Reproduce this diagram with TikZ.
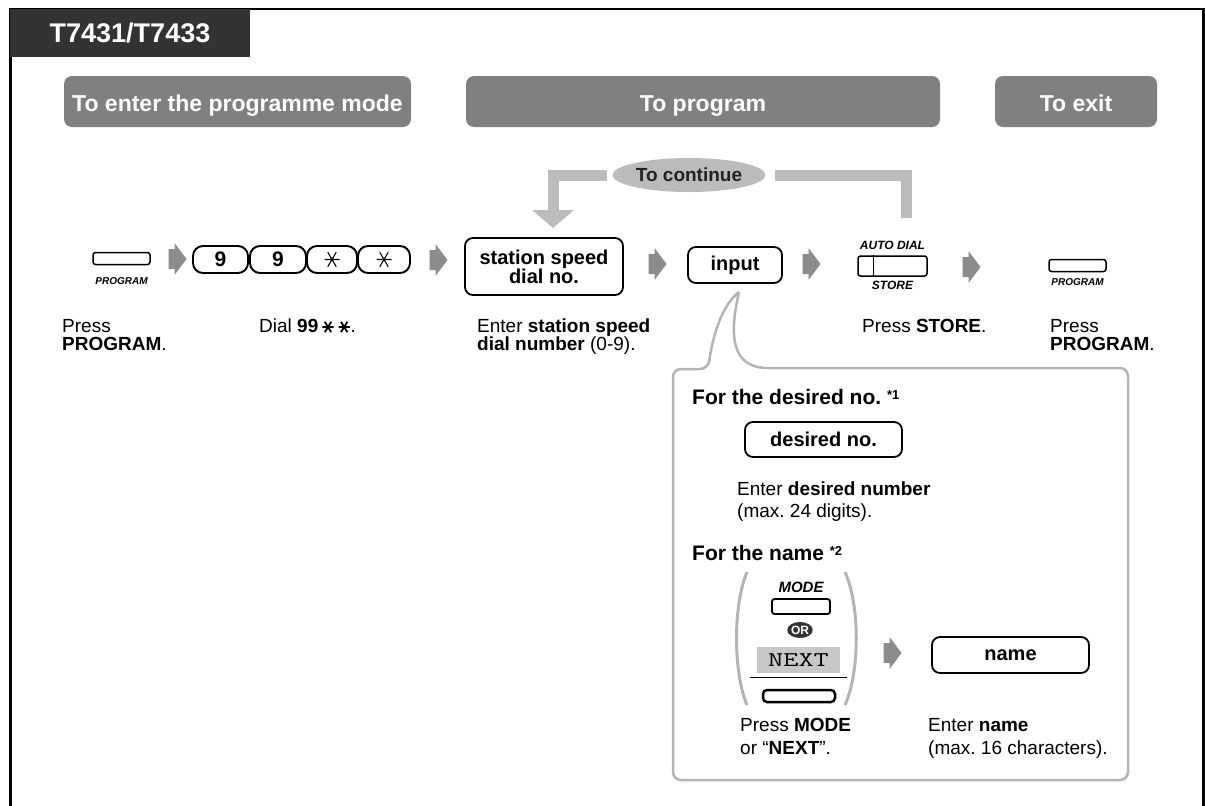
\documentclass[tikz,border=0pt]{standalone}
\usepackage{fontspec}
\setmainfont{Liberation Sans}
\usetikzlibrary{arrows.meta,shapes.geometric}
\frenchspacing

\definecolor{pillgray}{HTML}{808080}
\definecolor{titlebg}{HTML}{333333}
\definecolor{contgray}{HTML}{BBBBBB}
\definecolor{arrowgray}{HTML}{8C8C8C}
\definecolor{calloutgray}{HTML}{B4B4B4}
\definecolor{nextgray}{HTML}{C8C8C8}
\definecolor{darktext}{HTML}{222222}

\newcommand{\fs}[2]{\fontsize{#1}{#2}\selectfont}
\newcommand{\dstar}{\tikz[baseline=0pt]{\draw[line width=1.8pt] (-5.6pt,6pt)--(5.6pt,6pt) (-3.2pt,0.8pt)--(3.2pt,11.2pt) (3.2pt,0.8pt)--(-3.2pt,11.2pt);}}
\newcommand{\kstar}{\tikz{\draw[line width=1.1pt] (-7.5pt,0pt)--(7.5pt,0pt) (-4.2pt,-7.2pt)--(4.2pt,7.2pt) (4.2pt,-7.2pt)--(-4.2pt,7.2pt);}}

\tikzset{
  pill/.style={fill=pillgray, rounded corners=8pt, text=white, font=\bfseries\fs{23}{23}, inner sep=0pt, minimum height=51, text height=20pt, text depth=0pt},
  keybox/.style={draw, line width=1.9pt, rounded corners=10pt, inner sep=0pt, minimum height=27, font=\bfseries\fs{21}{21}},
  entrybox/.style={draw, line width=1.8pt, rounded corners=8pt, font=\bfseries\fs{20}{19}, align=center, inner sep=0pt},
  btn/.style={draw, line width=1.5pt, rounded corners=2.5pt, inner sep=0pt},
  btnlabel/.style={font=\bfseries\itshape\fs{10}{10}, inner sep=0pt},
  smalllabel/.style={font=\bfseries\itshape\fs{12}{12}, inner sep=0pt},
  body/.style={font=\fs{19}{18}, align=left, anchor=north west, inner sep=0pt},
  cbody/.style={font=\fs{19}{22.5}, align=left, anchor=north west, inner sep=0pt},
  chead/.style={font=\bfseries\fs{21}{21}, anchor=north west, inner sep=0pt},
  contline/.style={draw=contgray, line width=11pt},
  callout/.style={draw=calloutgray, line width=2.5pt},
  paren/.style={draw=calloutgray, line width=3pt},
  garrow/.pic={\fill[arrowgray] (-9,-10) -- (-3,-10) -- (-3,-16) -- (9,0) -- (-3,16) -- (-3,10) -- (-9,10) -- cycle;}
}

\begin{document}
\begin{tikzpicture}[x=1pt,y=-1pt]
\useasboundingbox (0,0) rectangle (1205,806);

% frame and title
\draw[line width=2.5pt] (10.5,815) -- (10.5,8.8) -- (1203.5,8.8) -- (1203.5,815);
\node[fill=titlebg, minimum width=240, minimum height=48, inner sep=0pt, text=white, font=\bfseries\fs{27}{27}] (title) at (130,33) {T7431/T7433};

% header pills
\node[pill, minimum width=347] (p1) at (237.5,101.5) {To enter the programme mode};
\node[pill, minimum width=474] (p2) at (703,101.5) {To program};
\node[pill, minimum width=162] (p3) at (1076,101.5) {To exit};

% step 1: PROGRAM
\node[btn, minimum width=57, minimum height=12] (prog1) at (121.5,258.5) {};
\node[btnlabel] (prog1lbl) at (121.5,281) {PROGRAM};
\pic at (177.5,259) {garrow};

% step 2: keys
\node[keybox, minimum width=55] (k1) at (220.5,259.5) {9};
\node[keybox, minimum width=56] (k2) at (278,259.5) {9};
\node[keybox, minimum width=50] (k3) at (332,259.5) {\kstar};
\node[keybox, minimum width=52] (k4) at (384,259.5) {\kstar};
\pic at (438.5,260) {garrow};

% step 3: station speed dial no.
\node[entrybox, minimum width=158, minimum height=57] (station) at (544,266.5) {station speed\\dial no.};
\pic at (657.5,264) {garrow};

% step 4: input
\node[entrybox, minimum width=94, minimum height=36] (input) at (735,265) {input};
\pic at (811.5,264) {garrow};

% step 5: STORE
\node[btn, minimum width=69, minimum height=20] (store) at (892.5,266) {};
\draw[line width=1.5pt] ([xshift=16pt]store.north west) -- ([xshift=16pt]store.south west);
\node[smalllabel] (autodial) at (892.5,245) {AUTO DIAL};
\node[smalllabel] (storelbl) at (892.5,285.5) {STORE};
\pic at (971.5,267) {garrow};

% step 6: PROGRAM
\node[btn, minimum width=57, minimum height=12] (prog2) at (1077.5,265.5) {};
\node[btnlabel] (prog2lbl) at (1077.5,282) {PROGRAM};

% to continue loop
\node[ellipse, fill=contgray, minimum width=153, minimum height=34, inner sep=0pt, text=darktext, font=\bfseries\fs{19}{19}] (cont) at (689,175) {To continue};
\coordinate (contR) at (906,218);
\coordinate (contL) at (553,228);
\draw[contline, shorten >=9pt] (contR) |- (cont.east);
\draw[contline, shorten <=5pt, -{Triangle[width=41pt,length=18pt]}] (cont.west) -| (contL);

% captions
\node[body] (c1) at (62,319) {Press\\\textbf{PROGRAM}.};
\node[body] (c2) at (259,319) {Dial \textbf{99}\,\dstar\,\dstar.};
\node[body] (c3) at (477,319) {Enter \textbf{station speed}\\\textbf{dial number} (0-9).};
\node[body] (c4) at (862,319) {Press \textbf{STORE}.};
\node[body] (c5) at (1050,319) {Press\\\textbf{PROGRAM}.};

% callout
\draw[callout] (739,292) .. controls (729,335) and (731,368) .. (768,368)
  [rounded corners=8pt] -- (1128,368) -- (1128,780) -- (673,780) -- (673,369) -- (708,369)
  [sharp corners] .. controls (713,335) and (722,305) .. (739,292);

\node[chead] (h1) at (692,389.5) {For the desired no. {\fs{13}{13}\raisebox{5.5pt}{*1}}};
\node[entrybox, minimum width=157, minimum height=35] (desired) at (823.5,439.5) {desired no.};
\node[cbody] (c6) at (737,481.5) {Enter \textbf{desired number}\\(max. 24 digits).};

\node[chead] (h2) at (692,545.5) {For the name {\fs{13}{13}\raisebox{5.5pt}{*2}}};
\draw[paren] (747,572) .. controls (733,605) and (733,672) .. (747,705);
\draw[paren] (845,572) .. controls (860,605) and (860,672) .. (845,705);
\node[font=\bfseries\itshape\fs{15}{15}, inner sep=0pt] (modelbl) at (801,587) {MODE};
\node[btn, line width=1.8pt, minimum width=58, minimum height=15] (modebtn) at (801,606.5) {};
\node[ellipse, fill=titlebg, minimum width=24, minimum height=16, inner sep=0pt, text=white, font=\bfseries\fs{12}{12}] (or) at (800,630) {OR};
\node[fill=nextgray, minimum width=83, minimum height=26, inner sep=0pt, font=\ttfamily\fs{21}{21}] (next) at (798.5,660) {\scalebox{1.4}[1]{NEXT}};
\draw[line width=1pt] (750,677) -- (847,677);
\node[draw, line width=2.5pt, rounded corners=4pt, minimum width=72, minimum height=12, inner sep=0pt] (nextbtn) at (799,696) {};
\pic at (892.5,653) {garrow};
\node[entrybox, minimum width=157, minimum height=36] (name) at (1010.5,655) {name};

\node[cbody] (c7) at (740,718.5) {Press \textbf{MODE}\\or “\textbf{NEXT}”.};
\node[cbody] (c8) at (928,718.5) {Enter \textbf{name}\\(max. 16 characters).};
\end{tikzpicture}
\end{document}
